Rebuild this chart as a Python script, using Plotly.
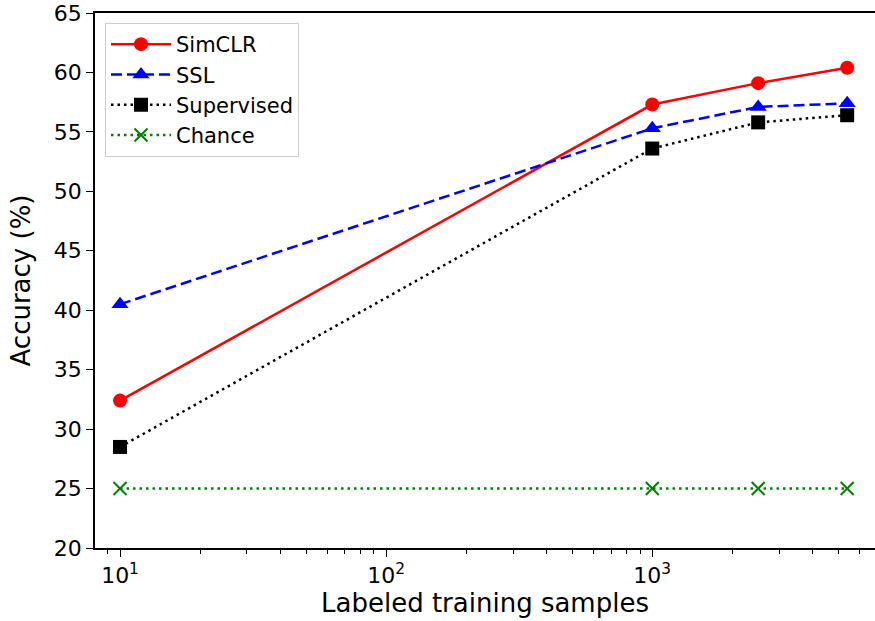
import plotly.graph_objects as go

samples = [10, 1000, 2500, 5400]
simclr = [32.4, 57.3, 59.1, 60.4]
ssl = [40.5, 55.3, 57.1, 57.4]
supervised = [28.5, 53.6, 55.8, 56.4]
chance = [25, 25, 25, 25]

tick_vals = [10, 100, 1000]
tick_text = ["10<sup>1</sup>", "10<sup>2</sup>", "10<sup>3</sup>"]
minor_vals = [9] + [d * 10 for d in range(2, 10)] + [d * 100 for d in range(2, 10)] + [d * 1000 for d in range(2, 7)]
y_ticks = [20, 25, 30, 35, 40, 45, 50, 55, 60, 65]

fig = go.Figure()
fig.add_trace(go.Scatter(x=samples, y=simclr, name="SimCLR", mode="lines+markers",
                         line=dict(color="red", width=2.5),
                         marker=dict(symbol="circle", size=14, color="red")))
fig.add_trace(go.Scatter(x=samples, y=ssl, name="SSL", mode="lines+markers",
                         line=dict(color="blue", width=2.5, dash="11px,5px"),
                         marker=dict(symbol="triangle-up", size=15, color="blue")))
fig.add_trace(go.Scatter(x=samples, y=supervised, name="Supervised", mode="lines+markers",
                         line=dict(color="black", width=2.5, dash="2.5px,4px"),
                         marker=dict(symbol="square", size=14, color="black")))
fig.add_trace(go.Scatter(x=samples, y=chance, name="Chance", mode="lines+markers",
                         line=dict(color="green", width=2.5, dash="2.5px,4px"),
                         marker=dict(symbol="x-thin", size=13, color="green",
                                     line=dict(color="green", width=2))))

W, H = 875, 621
ml, mr, mt, mb = 95, 0, 13, 73
fig.update_layout(
    width=W, height=H,
    margin=dict(l=ml, r=mr, t=mt, b=mb, autoexpand=False),
    plot_bgcolor="white", paper_bgcolor="white",
    font=dict(family="DejaVu Sans", size=22, color="black"),
    showlegend=True,
    legend=dict(x=(105 - ml) / (W - ml - mr), y=1 - (23 - mt) / (H - mt - mb),
                xanchor="left", yanchor="top",
                bgcolor="rgba(255,255,255,0.8)", bordercolor="#cccccc", borderwidth=1,
                font=dict(size=21), tracegroupgap=0, itemwidth=60),
    xaxis=dict(type="log", range=[0.906, 3.837], automargin=False,
               tickvals=tick_vals, ticktext=tick_text,
               ticks="outside", ticklen=7, tickwidth=1.2, tickcolor="black",
               showline=True, linecolor="black", linewidth=1.5, mirror=True,
               showgrid=False, zeroline=False,
               minor=dict(tickvals=minor_vals, ticks="outside", ticklen=4, tickwidth=1,
                          tickcolor="black", showgrid=False),
               title=dict(text="Labeled training samples", standoff=6),
               tickfont=dict(size=22)),
    yaxis=dict(range=[20, 65], tickvals=y_ticks, automargin=False,
               ticks="outside", ticklen=7, tickwidth=1.2, tickcolor="black",
               showline=True, linecolor="black", linewidth=1.5, mirror=False,
               showgrid=False, zeroline=False,
               title=dict(text="Accuracy (%)", standoff=16),
               tickfont=dict(size=22)),
)
fig.write_html("out.html", config={"displayModeBar": False},
               post_script="document.body.style.margin='0px';")
